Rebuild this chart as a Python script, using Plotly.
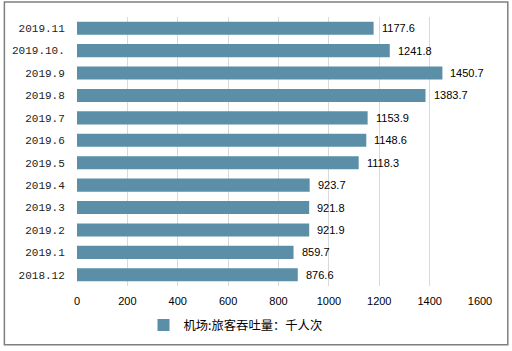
import plotly.graph_objects as go

categories = ["2018.12", "2019.1", "2019.2", "2019.3", "2019.4", "2019.5",
              "2019.6", "2019.7", "2019.8", "2019.9", "2019.10.", "2019.11"]
values = [876.6, 859.7, 921.9, 921.8, 923.7, 1118.3,
          1148.6, 1153.9, 1383.7, 1450.7, 1241.8, 1177.6]
series_name = "机场:旅客吞吐量：千人次"
x_ticks = [0, 200, 400, 600, 800, 1000, 1200, 1400, 1600]

bar_color = "#5b8fa7"

fig = go.Figure()
fig.add_trace(go.Bar(
    y=categories, x=values, orientation="h", name=series_name,
    marker=dict(color=bar_color, line=dict(width=0)),
    showlegend=True,
))

# category axis: annotation y given as category index
annotations = [
    dict(x=v, y=i, xref="x", yref="y", text=f"{v:.1f}", showarrow=False,
         xanchor="left", yanchor="middle", xshift=6,
         font=dict(family="Liberation Sans, Arial", size=11, color="#000000"))
    for i, v in enumerate(values)
]

fig.update_layout(
    width=512, height=351,
    margin=dict(l=75, r=32, t=17, b=64),
    paper_bgcolor="white", plot_bgcolor="white",
    bargap=0.42,
    annotations=annotations,
    legend=dict(orientation="h", x=0.165, xanchor="left", y=-0.145, yanchor="middle",
                font=dict(family="Noto Sans CJK SC", size=12.3, color="#000000")),
    shapes=[dict(type="rect", xref="paper", yref="paper",
                 x0=-0.1802, x1=1.069, y0=-0.2185, y1=1.0556,
                 line=dict(color="#7f7f7f", width=1.5))],
)
fig.update_xaxes(
    range=[0, 1600], tickvals=x_ticks, showgrid=True, gridcolor="#d9d9d9", gridwidth=1,
    zeroline=False, showline=False, ticks="outside", ticklen=5,
    tickcolor="rgba(0,0,0,0)",
    tickfont=dict(family="Liberation Sans, Arial", size=11, color="#000000"),
)
fig.update_yaxes(
    type="category", categoryorder="array", categoryarray=categories,
    showgrid=False, zeroline=False, showline=False, ticks="outside", ticklen=9,
    tickcolor="rgba(0,0,0,0)",
    tickfont=dict(family="Liberation Mono", size=11, color="#222222"),
)

fig.write_html("out.html")
